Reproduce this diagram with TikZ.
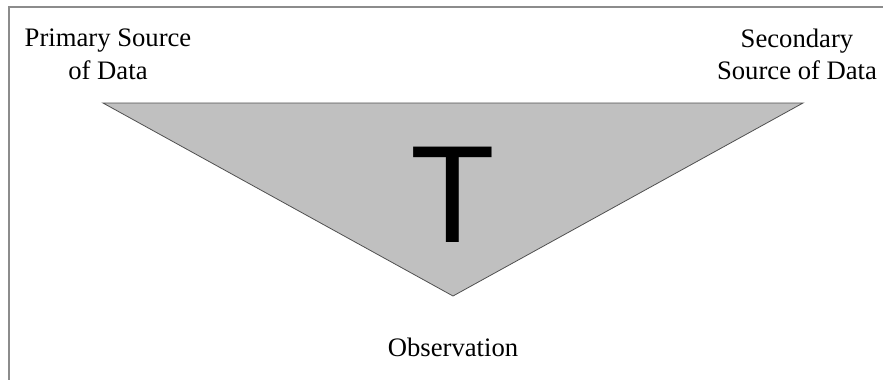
\documentclass[tikz,border=0pt]{standalone}
\usepackage{fontspec}
\setmainfont{Liberation Serif}
\newfontfamily\letterfont{Liberation Sans}
\usepackage{tikz}
\usetikzlibrary{positioning}
\definecolor{wedgegrey}{HTML}{C0C0C0}
\definecolor{edgegrey}{HTML}{505050}
\definecolor{framegrey}{HTML}{8C8C8C}

\begin{document}
\begin{tikzpicture}[x=0.75pt,y=-0.75pt,
  font=\fontsize{20}{24.5}\selectfont,
  lbl/.style={align=center,inner sep=0pt},
  frame/.style={draw=framegrey,line width=1.1pt},
  wedge/.style={fill=wedgegrey,draw=edgegrey,line width=0.6pt,line join=miter}]
\useasboundingbox (0,0) rectangle (883,380);
\draw[frame] (883,7) -- (9,7) -- (9,380);
% corners of the wedge
\coordinate (tl) at (103,103);
\coordinate (tr) at (803,103);
\coordinate (apex) at (453,296);
\draw[wedge] (tl) -- (tr) -- (apex) -- cycle;
\node[lbl,anchor=base] (letter) at (453,242) {\letterfont\fontsize{104}{104}\selectfont T};
\node[lbl] (primary) at (108,54.5) {Primary Source\\of Data};
\node[lbl] (secondary) at (797,54.5) {Secondary\\Source of Data};
\node[lbl,anchor=base] (obs) at (453,356) {Observation};
\end{tikzpicture}
\end{document}
